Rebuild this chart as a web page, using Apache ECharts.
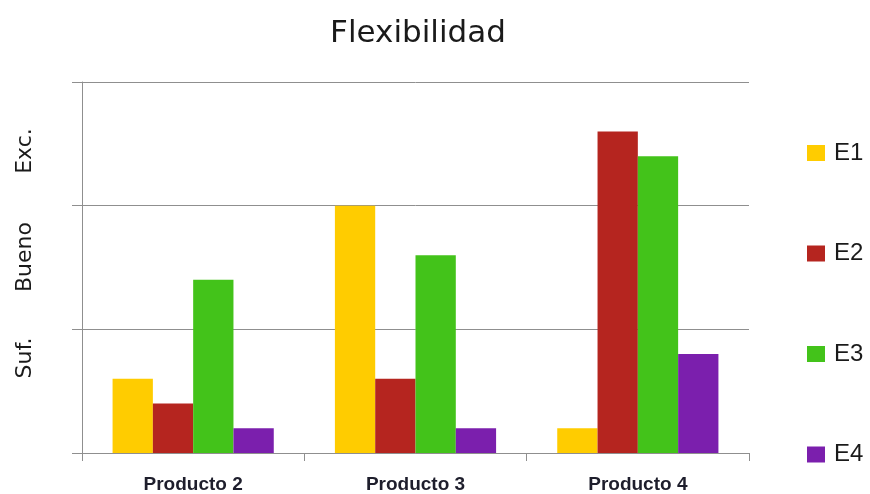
<!DOCTYPE html>
<html>
<head>
<meta charset="utf-8">
<script src="https://cdn.jsdelivr.net/npm/echarts@6/dist/echarts.min.js"></script>
<style>
  html, body { margin: 0; padding: 0; background: #fff; }
  #chart { width: 870px; height: 494px; }
</style>
</head>
<body>
<div id="chart"></div>
<script>
// Flexibility rating per product (0-3 scale: Suf. / Bueno / Exc.)
const categories = ['Producto 2', 'Producto 3', 'Producto 4'];
const seriesNames = ['E1', 'E2', 'E3', 'E4'];
const e1 = [0.6, 2.0, 0.2];
const e2 = [0.4, 0.6, 2.6];
const e3 = [1.4, 1.6, 2.4];
const e4 = [0.2, 0.2, 0.8];
const levelLabels = ['Suf.', 'Bueno', 'Exc.'];
const colors = ['#FFCC00', '#B5251F', '#43C31A', '#7B1FAD'];

const values = [e1, e2, e3, e4];
const chart = echarts.init(document.getElementById('chart'));

const levelY = [358, 257, 151];
const gray = '#8f8f8f';

chart.setOption({
  animation: false,
  title: {
    text: 'Flexibilidad',
    left: 413,
    textAlign: 'center',
    top: 13,
    textStyle: { fontFamily: 'DejaVu Sans', fontWeight: 'normal', fontSize: 31, color: '#1a1a1a' }
  },
  legend: {
    orient: 'vertical',
    left: 807,
    top: 141,
    padding: 0,
    itemWidth: 18,
    itemHeight: 16,
    itemGap: 76.5,
    icon: 'rect',
    data: seriesNames,
    textStyle: { fontFamily: 'Liberation Sans', fontSize: 24, color: '#1a1a1a', padding: [0, 0, 0, 4] }
  },
  grid: { left: 82, right: 121, top: 82, bottom: 40 },
  xAxis: {
    type: 'category',
    data: categories,
    axisLine: { lineStyle: { color: gray, width: 1 } },
    axisTick: { show: true, length: 8, lineStyle: { color: gray } },
    axisLabel: { margin: 22, fontFamily: 'Liberation Sans', fontWeight: 'bold', fontSize: 19, color: '#1e1e2c' }
  },
  yAxis: {
    type: 'value',
    min: 0,
    max: 3,
    interval: 1,
    axisLine: { show: true, lineStyle: { color: gray, width: 1 } },
    axisTick: { show: true, length: 10, lineStyle: { color: gray } },
    axisLabel: { show: false },
    splitLine: { lineStyle: { color: gray, width: 1 } }
  },
  graphic: levelLabels.map((t, i) => ({
    type: 'text',
    x: 25,
    y: levelY[i],
    rotation: Math.PI / 2,
    style: {
      text: t,
      align: 'center',
      verticalAlign: 'middle',
      fontFamily: 'DejaVu Sans',
      fontSize: 22,
      fill: '#1a1a1a'
    }
  })),
  series: seriesNames.map((name, i) => ({
    name: name,
    type: 'bar',
    data: values[i],
    barGap: '0%',
    barCategoryGap: '27.5%',
    itemStyle: { color: colors[i] }
  }))
});
</script>
</body>
</html>
